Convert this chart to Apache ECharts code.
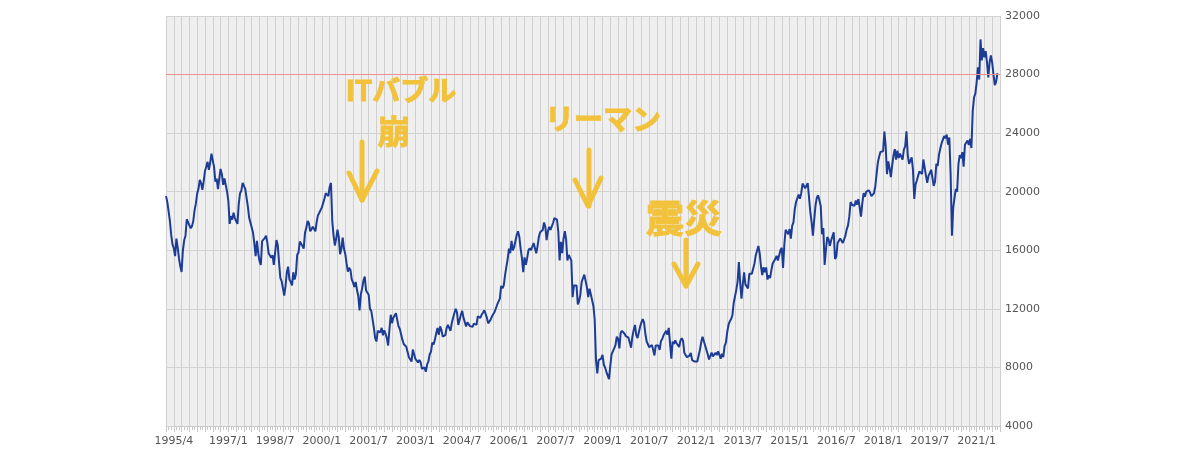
<!DOCTYPE html>
<html>
<head>
<meta charset="utf-8">
<script src="https://cdn.jsdelivr.net/npm/echarts@6/dist/echarts.min.js"></script>
<style>
  html, body { margin: 0; padding: 0; background: #ffffff; }
  #chart { width: 1200px; height: 466px; }
</style>
</head>
<body>
<div id="chart"></div>
<script>
// Nikkei 225, half-month readings (mid-month, month-end) starting 1995/1
const startValue = 19700;
const n1995 = [19300,18650, 18000,17050, 16400,16140, 15600,16800, 16200,15440, 14900,14520, 16000,16680, 17000,18120, 17900,17910, 17500,17650, 18000,18740, 19200,19870];
const n1996 = [20200,20810, 20600,20130, 20700,21410, 21700,22040, 21500,21960, 22600,22530, 21700,20690, 20900,20170, 20900,21560, 21200,20470, 20900,21020, 20000,19360];
const n1997 = [17800,18330, 18100,18560, 18200,18000, 17800,19150, 19900,20070, 20600,20600, 20200,20330, 19000,18230, 17900,17890, 17200,16460, 15600,16640, 15800,15260];
const n1998 = [15000,16630, 16500,16830, 17000,16530, 15800,15640, 15500,15670, 15000,15830, 16700,16380, 15200,14110, 13900,13410, 12900,13560, 14500,14880, 14000,13840];
const n1999 = [13600,14500, 14000,14370, 15700,15840, 16600,16700, 16300,16110, 17200,17530, 18000,17860, 17300,17440, 17600,17610, 17300,17940, 18400,18560, 18600,18930];
const n2000 = [18900,19540, 19900,19960, 19700,20340, 20600,17970, 17000,16330, 16800,17410, 16900,15730, 16100,16860, 16100,15750, 15100,14540, 14800,14650, 14000,13790];
const n2001 = [13500,13840, 13300,12880, 11900,13000, 13400,13930, 14200,13260, 13200,12970, 12000,11860, 11300,10710, 10000,9770, 10500,10370, 10400,10700, 10200,10540];
const n2002 = [10300,10000, 9500,10590, 11600,11020, 11400,11490, 11700,11760, 10800,10620, 10700,9880, 9600,9620, 9400,9380, 8700,8640, 8400,9220, 8900,8580];
const n2003 = [8700,8340, 8500,8360, 7900,7970, 8000,7700, 8200,8420, 8900,9080, 9700,9560, 9900,10340, 10700,10220, 10800,10560, 10100,10100, 10200,10680];
const n2004 = [10900,10780, 10500,11040, 11400,11720, 12000,11760, 10900,11240, 11600,11860, 11400,11330, 10800,11080, 11100,10820, 10900,10770, 11000,10900, 10900,11490];
const n2005 = [11400,11390, 11600,11740, 11900,11670, 11400,11010, 11000,11280, 11500,11580, 11800,11900, 12300,12410, 12700,13570, 13400,13610, 14300,14870, 15400,16110];
const n2006 = [15800,16650, 16000,16210, 16300,17060, 17300,16910, 16100,15470, 14500,15510, 15000,15460, 16000,16140, 16000,16130, 16500,16400, 15800,16270, 16900,17230];
const n2007 = [17300,17380, 17900,17600, 16700,17290, 17600,17400, 17500,17880, 18200,18140, 18100,17250, 15300,16570, 15800,16790, 17300,16740, 15300,15680, 15500,15310];
const n2008 = [12800,13590, 13600,13600, 12300,12530, 13000,13850, 13900,14340, 14400,13480, 12800,13380, 13000,13070, 12200,11260, 8500,7600, 8500,8510, 8600,8860];
const n2009 = [8200,7990, 7700,7570, 7200,8110, 8900,8830, 9300,9520, 10100,9960, 9300,10360, 10500,10490, 10300,10130, 10200,10030, 9700,9350, 10100,10550];
const n2010 = [10900,10200, 10000,10130, 10800,11090, 11300,11060, 10300,9770, 9900,9380, 9400,9540, 9200,8820, 9500,9370, 9500,9200, 9800,9940, 10200,10230];
const n2011 = [10500,10240, 10700,10620, 8600,9760, 9600,9850, 9650,9690, 9400,9820, 10000,9830, 9000,8960, 8700,8700, 8800,8990, 8500,8430, 8400,8460];
const n2012 = [8400,8800, 9200,9720, 10100,10080, 9500,9520, 8900,8540, 8600,9010, 8750,8700, 9000,8840, 9100,8870, 8600,8930, 8700,9450, 9700,10400];
const n2013 = [10900,11140, 11300,11560, 12400,12400, 13300,13860, 15200,13770, 12700,13680, 14500,13670, 13700,13390, 14400,14460, 14400,14330, 15100,15660, 15600,16290];
const n2014 = [15800,14910, 14300,14840, 14500,14830, 14000,14300, 14100,14630, 15100,15160, 15400,15620, 15300,15420, 16000,16170, 14800,16410, 17400,17460, 17100,17450];
const n2015 = [16800,17670, 17900,18800, 19300,19210, 19800,19520, 19900,20560, 20400,20240, 20400,20590, 20700,18600, 17900,17000, 18100,19080, 19600,19750, 19400,19030];
const n2016 = [17100,17520, 15000,16030, 16900,16760, 16300,16670, 16700,17230, 15400,15580, 16500,16570, 16800,16890, 16500,16450, 17000,17430, 17700,18310, 19300,19110];
const n2017 = [19200,19040, 19400,19120, 19500,18910, 18300,19200, 19900,19650, 20000,20030, 20100,19930, 19700,19650, 19900,20360, 21200,22010, 22400,22720, 22600,22760];
const n2018 = [24100,23100, 21200,22070, 21600,21000, 21800,22470, 22900,22200, 22800,22300, 22600,22550, 22200,22870, 23100,24120, 22500,21900, 21800,22350, 21500,19500];
const n2019 = [20500,20770, 21100,21390, 21500,21210, 22200,22260, 21100,20600, 21100,21280, 21500,21520, 20400,20700, 21900,21760, 22500,22930, 23300,23290, 23800,23660];
const n2020 = [23900,23210, 23700,21140, 17000,18920, 19600,20190, 20000,21880, 22500,22290, 22700,21710, 23200,23140, 23500,23190, 23600,22980, 25500,26430, 26700,27440];
const n2021 = [28500,27660, 30400,28970, 29800,29180, 29600,28810, 27800,28860, 29300,28790, 28000,27280, 27500,28090];

const xTickLabels = ['1995/4','1997/1','1998/7','2000/1','2001/7','2003/1','2004/7','2006/1','2007/7','2009/1','2010/7','2012/1','2013/7','2015/1','2016/7','2018/1','2019/7','2021/1'];
const yTicks = [4000, 32000, 4000]; // min, max, step
const redLineValue = 28000;

const annotations = ['ITバブル', '崩', 'リーマン', '震災'];

// ---- build ----
const allValues = [startValue].concat(n1995,n1996,n1997,n1998,n1999,n2000,n2001,n2002,n2003,n2004,n2005,n2006,n2007,n2008,n2009,n2010,n2011,n2012,n2013,n2014,n2015,n2016,n2017,n2018,n2019,n2020,n2021);
const seriesData = allValues.map((v, i) => [i * 0.5, v]); // x in months since 1995/1

const labelPos = {};
const tickPos = xTickLabels.map(s => {
  const p = s.split('/').map(Number);
  const pos = (p[0] - 1995) * 12 + (p[1] - 1);
  labelPos[pos] = s;
  return pos;
});

const YELLOW = '#f2c23c';
const arrowStyle = { stroke: YELLOW, lineWidth: 5, lineCap: 'round', lineJoin: 'round', fill: null };
const textStyleBase = { fill: YELLOW, stroke: YELLOW, lineWidth: 1, fontFamily: '"Noto Sans CJK JP"', fontWeight: 'bold', align: 'center', verticalAlign: 'middle' };

const chart = echarts.init(document.getElementById('chart'), null, { renderer: 'canvas' });
chart.setOption({
  animation: false,
  backgroundColor: '#ffffff',
  grid: { left: 166, right: 200, top: 16, bottom: 40, show: true, backgroundColor: '#efefef', borderWidth: 0 },
  xAxis: {
    type: 'value', min: 0, max: 321, interval: 3,
    axisLine: { show: true, lineStyle: { color: '#c8c8c8', width: 1 } },
    axisTick: { show: true, length: 6, lineStyle: { color: '#c8c8c8' } },
    minorTick: { show: true, splitNumber: 3, length: 4, lineStyle: { color: '#c8c8c8' } },
    splitLine: { show: true, lineStyle: { color: '#cfcfcf', width: 1 } },
    axisLabel: {
      customValues: tickPos,
      formatter: v => labelPos[Math.round(v)] || '',
      color: '#555', fontFamily: '"DejaVu Sans"', fontSize: 11, margin: 10
    }
  },
  yAxis: {
    type: 'value', position: 'right', min: yTicks[0], max: yTicks[1], interval: yTicks[2],
    axisLine: { show: false },
    axisTick: { show: true, length: 8, lineStyle: { color: '#d3d3d3' } },
    splitLine: { show: true, lineStyle: { color: '#d3d3d3', width: 1 } },
    axisLabel: { formatter: v => String(v), color: '#555', fontFamily: '"DejaVu Sans"', fontSize: 11, margin: 5 }
  },
  series: [{
    type: 'line',
    data: seriesData,
    showSymbol: false,
    symbol: 'none',
    lineStyle: { color: '#1d3c96', width: 2 },
    z: 3,
    markLine: {
      silent: true, symbol: 'none', animation: false,
      label: { show: false },
      lineStyle: { color: '#ef8f8f', width: 1, type: 'solid' },
      data: [{ yAxis: redLineValue }]
    }
  }],
  graphic: [
    { type: 'text', z: 10, x: 401, y: 90, style: Object.assign({}, textStyleBase, { text: annotations[0], fontSize: 28 }) },
    { type: 'text', z: 10, x: 394, y: 131, style: Object.assign({}, textStyleBase, { text: annotations[1], fontSize: 33 }) },
    { type: 'polyline', z: 10, shape: { points: [[362, 142], [362, 200]] }, style: arrowStyle },
    { type: 'polyline', z: 10, shape: { points: [[349, 173], [362, 200], [377, 171]] }, style: arrowStyle },

    { type: 'text', z: 10, x: 603, y: 119, style: Object.assign({}, textStyleBase, { text: annotations[2], fontSize: 29 }) },
    { type: 'polyline', z: 10, shape: { points: [[589, 150], [589, 206]] }, style: arrowStyle },
    { type: 'polyline', z: 10, shape: { points: [[575, 180], [588, 206], [601, 178]] }, style: arrowStyle },

    { type: 'text', z: 10, x: 684, y: 218, style: Object.assign({}, textStyleBase, { text: annotations[3], fontSize: 38 }) },
    { type: 'polyline', z: 10, shape: { points: [[686, 240], [686, 286]] }, style: arrowStyle },
    { type: 'polyline', z: 10, shape: { points: [[674, 264], [686, 286], [698, 264]] }, style: arrowStyle }
  ]
});
</script>
</body>
</html>
